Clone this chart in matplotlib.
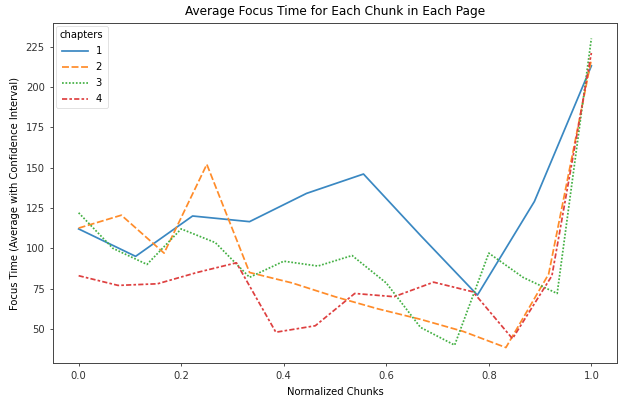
import matplotlib
matplotlib.use("Agg")
import matplotlib.pyplot as plt
import numpy as np

# average focus time per normalized chunk, one list per chapter
ch1 = [112, 95, 120, 116.5, 134, 146, 108, 71, 129, 213]
ch2 = [112.5, 120.5, 97, 152, 85, 78.5, 70, 62.5, 56, 48.5, 38.5, 84, 217]
ch3 = [122, 100, 90, 112, 103.5, 82, 92, 89, 95.5, 78.5, 51, 40, 97, 82, 72, 230]
ch4 = [83, 77, 78, 85, 91, 48, 52, 72, 70, 79, 73, 44, 83, 221]
chapters = ["1", "2", "3", "4"]
series = [ch1, ch2, ch3, ch4]

colors = ["#3a88c2", "#ff8c2a", "#44b044", "#de4040"]
dashes = [(), (4, 1.5), (1, 1), (3, 1.25, 1.5, 1.25)]

fig = plt.figure(figsize=(6.2, 3.96), dpi=100)
ax = fig.add_subplot(111)
fig.subplots_adjust(left=53/620, right=617/620, top=1-23/396, bottom=1-363/396)

lw = 1.25
for name, ys, c, d in zip(chapters, series, colors, dashes):
    xs = np.linspace(0, 1, len(ys))
    ax.plot(xs, ys, color=c, lw=lw, dashes=d, label=name)

ax.set_yticks([50, 75, 100, 125, 150, 175, 200, 225])
ax.set_xticks([0.0, 0.2, 0.4, 0.6, 0.8, 1.0])
ax.tick_params(labelsize=7.2, width=0.6, length=2.5, colors="#333333")
for s in ax.spines.values():
    s.set_linewidth(0.7)
    s.set_color("#444444")

ax.set_title("Average Focus Time for Each Chunk in Each Page", fontsize=8.7)
ax.set_xlabel("Normalized Chunks", fontsize=7.2)
ax.set_ylabel("Focus Time (Average with Confidence Interval)", fontsize=7.2)

leg = ax.legend(title="chapters", loc="upper left", fontsize=7.2, title_fontsize=7.2,
                handlelength=2.6, borderaxespad=0.3, labelspacing=0.6)
leg.get_frame().set_linewidth(0.5)

fig.savefig("out.png", dpi=100)
